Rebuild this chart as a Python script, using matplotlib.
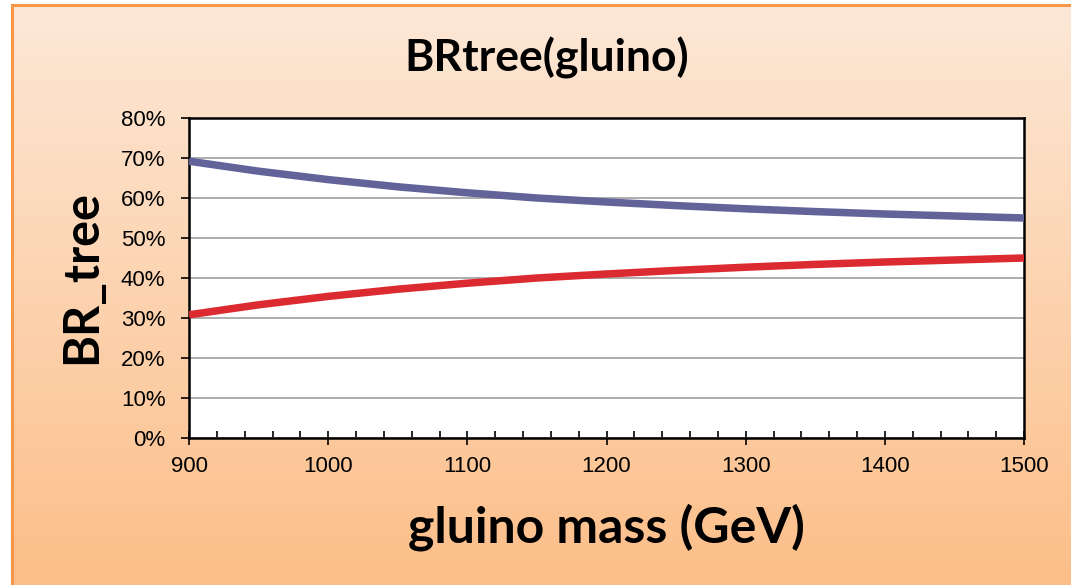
import numpy as np
import matplotlib.pyplot as plt
from matplotlib.patches import Rectangle
from matplotlib.ticker import MultipleLocator, PercentFormatter

# gluino mass (GeV) and tree-level branching ratios (%)
mass = [900, 950, 1000, 1050, 1100, 1150, 1200, 1250, 1300, 1350, 1400, 1450, 1500]
br_blue = [69.2, 66.7, 64.6, 62.8, 61.3, 60.0, 59.0, 58.1, 57.3, 56.6, 56.0, 55.5, 55.0]
br_red = [30.8, 33.3, 35.4, 37.2, 38.7, 40.0, 41.0, 41.9, 42.7, 43.4, 44.0, 44.5, 45.0]

W, H = 1071, 585
fig = plt.figure(figsize=(W / 100, H / 100), dpi=100)
fig.patch.set_facecolor('white')

# orange gradient panel behind the chart
bg = fig.add_axes([0, 0, 1, 1], zorder=-1)
bg.set_xlim(0, 1)
bg.set_ylim(0, 1)
bg.axis('off')
top = np.array([0xfd, 0xe8, 0xd7]) / 255
bottom = np.array([0xfc, 0xbe, 0x88]) / 255
t = np.linspace(0, 1, 256)[:, None]
grad = (top * (1 - t) + bottom * t)[:, None, :]
x0, y1 = 12 / W, 1 - 5 / H
bg.imshow(grad, extent=[x0, 1.01, -0.01, y1], aspect='auto', origin='upper')
bg.add_patch(Rectangle((x0, -0.01), 1.01 - x0, y1 + 0.01, fill=False,
                       edgecolor='#f79646', linewidth=2.2))

ax = fig.add_axes([189 / W, 1 - 438 / H, 835 / W, 320 / H])
ax.set_facecolor('white')
ax.plot(mass, br_blue, color='#626399', linewidth=5.4, solid_capstyle='butt', zorder=3)
ax.plot(mass, br_red, color='#dc2a31', linewidth=5.4, solid_capstyle='butt', zorder=3)

ax.set_xlim(900, 1500)
ax.set_ylim(0, 80)
ax.yaxis.set_major_locator(MultipleLocator(10))
ax.yaxis.set_major_formatter(PercentFormatter(decimals=0))
ax.xaxis.set_major_locator(MultipleLocator(100))
ax.xaxis.set_minor_locator(MultipleLocator(20))
ax.grid(axis='y', color='#a6a6a6', linewidth=1.3)
ax.set_axisbelow(True)

for s in ax.spines.values():
    s.set_linewidth(1.8)
    s.set_color('black')

ax.tick_params(axis='y', direction='out', length=6, width=1.2, labelsize=16, pad=11)
ax.tick_params(axis='x', which='major', direction='inout', length=10, width=1.2,
               labelsize=16, pad=8)
ax.tick_params(axis='x', which='minor', direction='in', length=5, width=1.2)
for lab in ax.get_xticklabels() + ax.get_yticklabels():
    lab.set_family('Liberation Sans')

fig.text(547 / W, 1 - 58 / H, 'BRtree(gluino)', fontsize=32, fontweight='bold',
         family='Lato', ha='center', va='center')
fig.text(606 / W, 1 - 527 / H, 'gluino mass (GeV)', fontsize=36, fontweight='bold',
         family='Lato', ha='center', va='center')
fig.text(82 / W, 1 - 277 / H, 'BR_tree', fontsize=35, fontweight='bold',
         family='Lato', ha='center', va='center', rotation=90)

fig.savefig('out.png', dpi=100)
